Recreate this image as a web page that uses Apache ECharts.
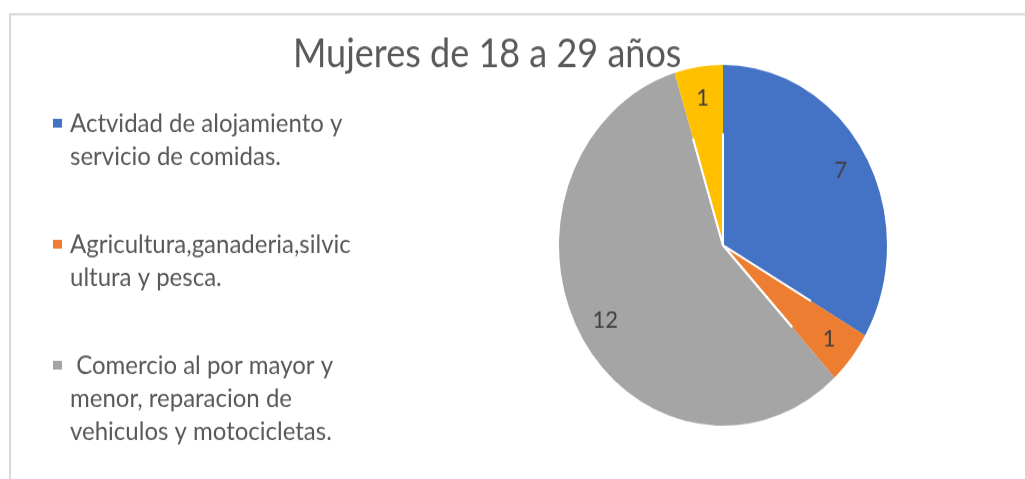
<!DOCTYPE html>
<html lang="es">
<head>
<meta charset="utf-8">
<style type="text/css">
    html, body {
        margin: 0;
        padding: 0;
        background-color: #fff;
    }
    body {
        height: 479px;
        overflow: hidden;
    }
    /* el grafico original esta estirado en vertical */
    #echarts {
        width: 1025px;
        height: 436px;
        transform: scaleY(1.1);
        transform-origin: 0 0;
    }
</style>
</head>
<body>
<div id="echarts"></div>
<script type="text/javascript" src="https://cdn.jsdelivr.net/npm/echarts@6/dist/echarts.min.js"></script>
<script type="text/javascript">
var categorias = [
    'Actvidad de alojamiento y servicio de comidas.',
    'Agricultura,ganaderia,silvicultura y pesca.',
    'Comercio al por mayor y menor, reparacion de vehiculos y motocicletas.',
    'Otros'
];
var valores = [7, 1, 12, 1];
var colores = ['#4472C4', '#ED7D31', '#A5A5A5', '#FFC000'];
// texto de la leyenda tal como se corta en la imagen (el 4o no aparece)
var lineasLeyenda = [
    ['Actvidad de alojamiento y', 'servicio de comidas.'],
    ['Agricultura,ganaderia,silvic', 'ultura y pesca.'],
    [' Comercio al por mayor y', 'menor, reparacion de', 'vehiculos y motocicletas.']
];

var myEcharts = echarts.init(document.getElementById('echarts'));

var datos = categorias.map(function (c, i) {
    return { name: c, value: valores[i], itemStyle: { color: colores[i] } };
});

var rich = {
    t: { fontSize: 24, lineHeight: 30, color: '#595959', fontFamily: 'Lato' },
    sp1: { width: 8, height: 8 },
    sp2: { width: 17, height: 8 }
};
colores.forEach(function (c, i) {
    rich['m' + i] = { width: 9, height: 8, backgroundColor: c };
});

var R = 164;

var option = {
    animation: false,
    title: {
        text: 'Mujeres de 18 a 29 años',
        left: 293,
        top: 31,
        padding: 0,
        textStyle: {
            fontFamily: 'Lato',
            fontSize: 36,
            fontWeight: 'normal',
            color: '#595959'
        }
    },
    legend: {
        orient: 'vertical',
        left: 46,
        top: 100,
        padding: 0,
        itemGap: 56,
        itemWidth: 1,
        itemHeight: 1,
        itemStyle: { opacity: 0 },
        selectedMode: false,
        data: categorias.slice(0, 3),
        formatter: function (name) {
            var i = categorias.indexOf(name);
            var l = lineasLeyenda[i];
            var s = '{m' + i + '|}{sp1|}{t|' + l[0] + '}';
            for (var k = 1; k < l.length; k++) {
                s += '\n{sp2|}{t|' + l[k] + '}';
            }
            return s;
        },
        textStyle: { rich: rich }
    },
    graphic: [{
        type: 'rect',
        shape: { x: 10, y: 13, width: 1100, height: 600 },
        style: { fill: 'none', stroke: '#d9d9d9', lineWidth: 2 },
        silent: true,
        z: -1
    }],
    series: [{
        type: 'pie',
        center: [723, 223],
        radius: R,
        startAngle: 90,
        clockwise: true,
        data: datos,
        label: { show: false },
        labelLine: { show: false },
        itemStyle: { borderColor: '#fff', borderWidth: 2 },
        emphasis: { disabled: true }
    }, {
        // capa transparente solo para poner las etiquetas cerca del borde
        type: 'pie',
        center: [723, 223],
        radius: [R * 0.62, R],
        startAngle: 90,
        clockwise: true,
        silent: true,
        data: datos,
        itemStyle: { color: 'rgba(0,0,0,0)', borderWidth: 0 },
        label: {
            show: true,
            position: 'inside',
            formatter: '{c}',
            fontFamily: 'Lato',
            fontSize: 22,
            color: '#404040'
        },
        labelLine: { show: false },
        emphasis: { disabled: true }
    }]
};
myEcharts.setOption(option);
</script>
</body>
</html>
